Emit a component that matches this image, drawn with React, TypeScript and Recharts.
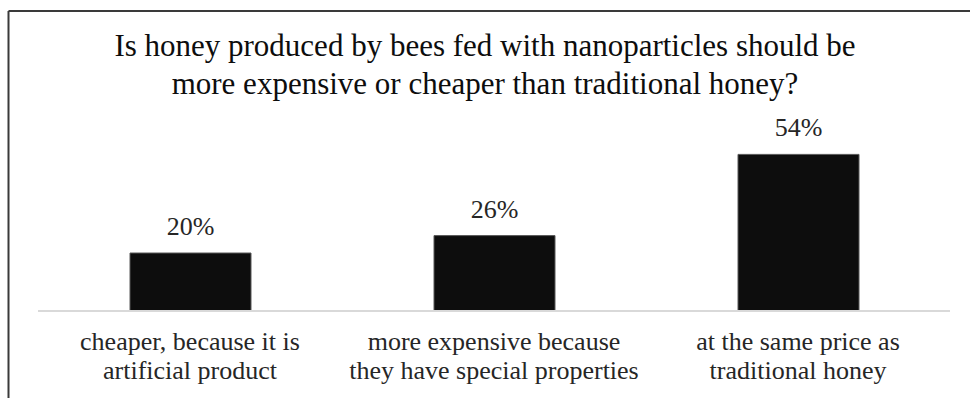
import { Bar, BarChart, XAxis, YAxis } from "recharts";

const categories = [
  "cheaper, because it is|artificial product",
  "more expensive because|they have special properties",
  "at the same price as|traditional honey",
];
const shares = [20, 26, 54];
const titleLines = [
  "Is honey produced by bees fed with nanoparticles should be",
  "more expensive or cheaper than traditional honey?",
];

const data = categories.map((category, i) => ({ category, share: shares[i] }));

const serif = "Liberation Serif, Tinos, Times New Roman, serif";

function CategoryTick(props: any) {
  const { x, y, payload } = props;
  const lines = String(payload.value).split("|");
  return (
    <text
      x={x}
      y={y + 39}
      textAnchor="middle"
      fill="#262626"
      fontSize={26}
      style={{ fontFamily: serif }}
    >
      {lines.map((line, i) => (
        <tspan key={line} x={x} dy={i === 0 ? 0 : 29}>
          {line}
        </tspan>
      ))}
    </text>
  );
}

function ValueLabel(props: any) {
  const { x, y, width, value } = props;
  return (
    <text
      x={x + width / 2}
      y={y - 18}
      textAnchor="middle"
      fill="#262626"
      fontSize={26}
      style={{ fontFamily: serif }}
    >
      {`${value}%`}
    </text>
  );
}

export default function App() {
  return (
    <div
      style={{
        position: "absolute",
        left: 0,
        top: 0,
        width: 970,
        height: 398,
        background: "#fff",
        overflow: "hidden",
        fontFamily: serif,
      }}
    >
      <svg
        width={970}
        height={398}
        style={{ position: "absolute", left: 0, top: 0 }}
      >
        <line x1={8.5} y1={11} x2={970} y2={11} stroke="#3a3a3a" strokeWidth={2} />
        <line x1={8.5} y1={11} x2={8.5} y2={398} stroke="#3a3a3a" strokeWidth={2} />
        {titleLines.map((line, i) => (
          <text
            key={line}
            x={485}
            y={56 + i * 38}
            textAnchor="middle"
            fill="#0d0d0d"
            fontSize={31}
            style={{ fontFamily: serif }}
          >
            {line}
          </text>
        ))}
      </svg>
      <div style={{ position: "absolute", left: 0, top: 0 }}>
        <BarChart
          width={970}
          height={398}
          data={data}
          margin={{ top: 137, right: 20, bottom: 0, left: 38 }}
        >
          <XAxis
            dataKey="category"
            height={87}
            axisLine={{ stroke: "#d9d9d9", strokeWidth: 2 }}
            tickLine={false}
            tickSize={0}
            tickMargin={0}
            interval={0}
            tick={<CategoryTick />}
          />
          <YAxis hide domain={[0, 60]} />
          <Bar
            dataKey="share"
            fill="#0d0d0d"
            stroke="#595959"
            strokeWidth={1}
            barSize={121}
            isAnimationActive={false}
            label={<ValueLabel />}
          />
        </BarChart>
      </div>
    </div>
  );
}
